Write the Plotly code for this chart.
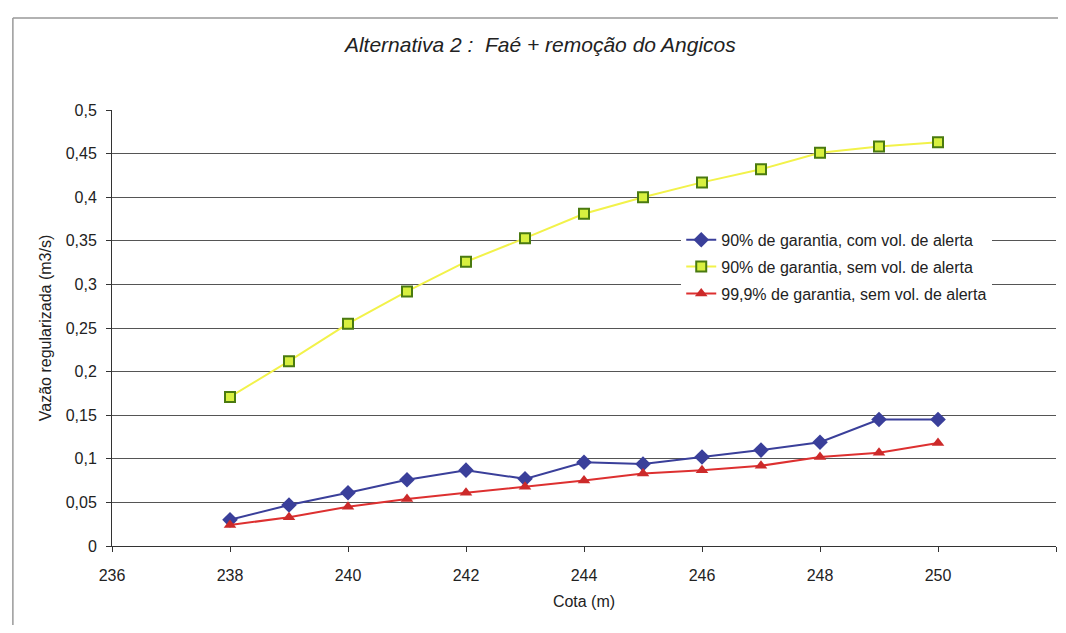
import plotly.graph_objects as go

cota = [238, 239, 240, 241, 242, 243, 244, 245, 246, 247, 248, 249, 250]
com_alerta_90 = [0.030, 0.047, 0.061, 0.076, 0.087, 0.077, 0.096, 0.094, 0.102, 0.110, 0.119, 0.145, 0.145]
sem_alerta_90 = [0.171, 0.212, 0.255, 0.292, 0.326, 0.353, 0.381, 0.400, 0.417, 0.432, 0.451, 0.458, 0.463]
sem_alerta_999 = [0.024, 0.033, 0.045, 0.054, 0.061, 0.068, 0.075, 0.083, 0.087, 0.092, 0.102, 0.107, 0.118]

nomes = ["90% de garantia, com vol. de alerta",
         "90% de garantia, sem vol. de alerta",
         "99,9% de garantia, sem vol. de alerta"]

fig = go.Figure()
fig.add_trace(go.Scatter(x=cota, y=com_alerta_90, name=nomes[0], mode="lines+markers",
                         legendgroup="a",
                         line=dict(color="#3a3f9a", width=2),
                         marker=dict(symbol="diamond", size=12, color="#3a3f9a")))
fig.add_trace(go.Scatter(x=cota, y=sem_alerta_90, name=nomes[1], mode="lines+markers",
                         legendgroup="b",
                         line=dict(color="#f2f24a", width=2),
                         marker=dict(symbol="square", size=10, color="#d8f040",
                                     line=dict(color="#4a7a10", width=2))))
fig.add_trace(go.Scatter(x=cota, y=sem_alerta_999, name=nomes[2], mode="lines+markers",
                         legendgroup="c",
                         line=dict(color="#dd3030", width=2),
                         marker=dict(symbol="triangle-up", size=11, color="#cc2a2a")))

# page is drawn with an 8px body margin, so the figure is 16px smaller
fig.update_layout(
    width=1050, height=617,
    margin=dict(l=104, r=2, t=102, b=79),
    paper_bgcolor="white", plot_bgcolor="white",
    separators=",.",
    font=dict(family="Liberation Sans, Arial, sans-serif", size=16, color="#222"),
    title=dict(text="<i>Alternativa 2 :  Faé + remoção do Angicos</i>",
               x=0.507, xanchor="center", y=0.94, yanchor="middle",
               font=dict(size=21, color="#222")),
    showlegend=True,
    legend=dict(x=0.603, y=0.741, xanchor="left", yanchor="top",
                bgcolor="white", borderwidth=0, font=dict(size=16),
                tracegroupgap=3),
    shapes=[
        dict(type="line", xref="paper", yref="paper", x0=-0.105, x1=1.01, y0=1.211, y1=1.211,
             line=dict(color="#999", width=1.5)),
        dict(type="line", xref="paper", yref="paper", x0=-0.105, x1=-0.105, y0=-0.2, y1=1.211,
             line=dict(color="#999", width=1.5)),
    ],
)
fig.update_xaxes(range=[236, 252], dtick=2, showgrid=False, zeroline=False,
                 showline=True, linecolor="#333", linewidth=1,
                 ticks="outside", ticklen=5, tickcolor="#333", ticklabelstandoff=10,
                 title=dict(text="Cota (m)", font=dict(size=16), standoff=12))
fig.update_yaxes(range=[0, 0.5], dtick=0.05, showgrid=True, gridcolor="#555", gridwidth=1,
                 zeroline=False, showline=True, linecolor="#333", linewidth=1,
                 ticks="outside", ticklen=5, tickcolor="#333", ticklabelstandoff=6,
                 title=dict(text="Vazão regularizada (m3/s)", font=dict(size=16), standoff=10))

fig.write_html("out.html")
